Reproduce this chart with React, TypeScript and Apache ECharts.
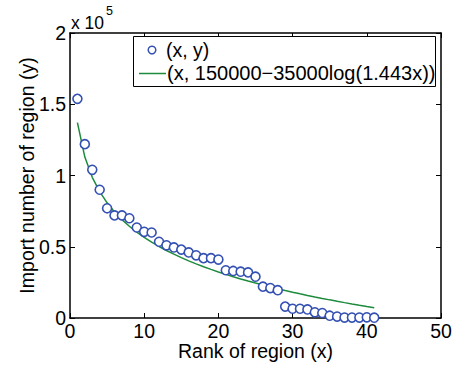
import React, { useEffect, useRef } from "react";
import * as echarts from "echarts";

const ranks = [1,2,3,4,5,6,7,8,9,10,11,12,13,14,15,16,17,18,19,20,21,22,23,24,25,26,27,28,29,30,31,32,33,34,35,36,37,38,39,40,41];
const imports = [153800,122000,104000,90000,77000,72000,72000,70000,63500,60500,60000,53500,51000,49500,48000,46000,44000,42000,42000,41000,33500,33000,32500,32000,29000,22000,21000,19500,8000,6500,6500,6000,4000,3500,1600,1000,300,300,300,500,200];
const fitted = [137166,112906,98715,88646,80836,74454,69059,64386,60264,56576,53240,50194,47393,44799,42384,40125,38003,36002,34110,32315,30607,28979,27423,25933,24505,23132,21811,20538,19310,18124,16976,15865,14788,13743,12729,11743,10784,9850,8941,8055,7190];
const seriesNames = ["(x, y)", "(x, 150000\u221235000log(1.443x))"];

const FONT = "Liberation Sans, Arial, Helvetica, sans-serif";
const FS = 19.5;
const BLUE = "#3350b2";
const GREEN = "#1d8a3c";

export default function App() {
  const ref = useRef<HTMLDivElement>(null);
  useEffect(() => {
    if (!ref.current) return;
    const chart = echarts.init(ref.current, null, { renderer: "svg" });
    const axisCommon = {
      axisLine: { show: true, onZero: false, lineStyle: { color: "#000", width: 1.5 } },
      axisTick: { show: true, inside: true, length: 5, lineStyle: { color: "#000", width: 1 } },
      splitLine: { show: false },
    };
    chart.setOption({
      animation: false,
      backgroundColor: "#fff",
      textStyle: { fontFamily: FONT },
      grid: { left: 70, right: 14, top: 33, bottom: 49, containLabel: false },
      graphic: [
        {
          type: "text",
          left: 71,
          top: 4,
          z: 10,
          style: {
            text: "{a|x 10}{b|5}",
            rich: {
              a: { fontSize: 17.5, fontFamily: FONT, fill: "#000", padding: [10, 0, 0, 0] },
              b: { fontSize: 12.5, fontFamily: FONT, fill: "#000", verticalAlign: "top", padding: [0, 0, 0, 2] },
            },
          },
        },
        {
          type: "rect",
          z: 10,
          shape: { x: 133.5, y: 36.5, width: 302, height: 50 },
          style: { fill: "#fff", stroke: "#000", lineWidth: 1 },
        },
        {
          type: "circle",
          z: 11,
          shape: { cx: 152, cy: 50, r: 3.8 },
          style: { fill: "#fff", stroke: BLUE, lineWidth: 1.5 },
        },
        {
          type: "text",
          z: 11,
          x: 166,
          y: 50,
          style: { text: seriesNames[0], fontSize: FS, fontFamily: FONT, fill: "#000", verticalAlign: "middle" },
        },
        {
          type: "line",
          z: 11,
          shape: { x1: 139, y1: 73.5, x2: 166, y2: 73.5 },
          style: { stroke: GREEN, lineWidth: 1.5 },
        },
        {
          type: "text",
          z: 11,
          x: 167,
          y: 73,
          style: { text: seriesNames[1], fontSize: 20, fontFamily: FONT, fill: "#000", verticalAlign: "middle" },
        },
      ],
      xAxis: [
        {
          type: "value",
          min: 0,
          max: 50,
          interval: 10,
          name: "Rank of region (x)",
          nameLocation: "middle",
          nameGap: 23,
          nameMoveOverlap: false,
          nameTextStyle: { fontSize: FS, color: "#000", fontFamily: FONT },
          axisLabel: { fontSize: FS, color: "#000", margin: 3, fontFamily: FONT },
          ...axisCommon,
        },
        {
          type: "value",
          position: "top",
          min: 0,
          max: 50,
          interval: 10,
          axisLabel: { show: false },
          ...axisCommon,
        },
      ],
      yAxis: [
        {
          type: "value",
          min: 0,
          max: 200000,
          interval: 50000,
          name: "Import number of region (y)",
          nameLocation: "middle",
          nameGap: 33,
          nameMoveOverlap: false,
          nameTextStyle: { fontSize: FS, color: "#000", fontFamily: FONT },
          axisLabel: {
            fontSize: FS,
            color: "#000",
            margin: 4,
            fontFamily: FONT,
            formatter: (v: number) => String(v / 100000),
          },
          ...axisCommon,
        },
        {
          type: "value",
          position: "right",
          min: 0,
          max: 200000,
          interval: 50000,
          axisLabel: { show: false },
          ...axisCommon,
        },
      ],
      series: [
        {
          name: seriesNames[0],
          type: "scatter",
          symbol: "circle",
          symbolSize: 9,
          itemStyle: { color: "#fff", borderColor: BLUE, borderWidth: 1.6, opacity: 1 },
          data: ranks.map((r, i) => [r, imports[i]]),
          z: 3,
        },
        {
          name: seriesNames[1],
          type: "line",
          symbol: "none",
          showSymbol: false,
          lineStyle: { color: GREEN, width: 1.5 },
          data: ranks.map((r, i) => [r, fitted[i]]),
          z: 2,
        },
      ],
    });
    return () => chart.dispose();
  }, []);
  return <div ref={ref} style={{ width: 455, height: 367, position: "absolute", left: 0, top: 0 }} />;
}
